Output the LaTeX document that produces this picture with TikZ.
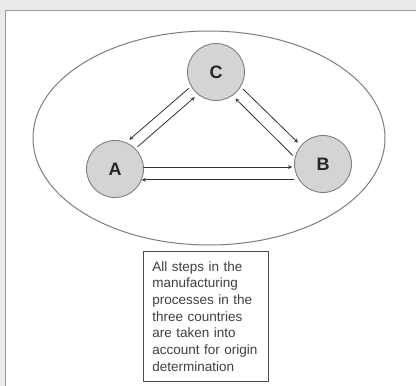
\documentclass[tikz,border=0pt]{standalone}
\usepackage{fontspec}
\setmainfont{Liberation Sans}
\usetikzlibrary{calc}
\definecolor{pagegray}{HTML}{EBEBEB}
\definecolor{framegray}{HTML}{9A9A9A}
\definecolor{discgray}{HTML}{D4D4D4}
\definecolor{rimgray}{HTML}{7E7E7E}
\definecolor{inkgray}{HTML}{333333}
\tikzset{
	country/.style={circle,draw=rimgray,fill=discgray,line width=0.9pt,
		minimum size=57pt,inner sep=0pt,text=black!85,
		font=\fontsize{18}{20}\selectfont\bfseries},
	flow/.style={->,draw=inkgray,line width=0.8pt},
	slant/.style={shorten >=4pt,shorten <=3pt},
	notebox/.style={draw=black!70,line width=0.8pt,anchor=north west,
		text width=107pt,inner xsep=9pt,inner ysep=10pt,align=left,
		text=black!75,font=\fontsize{13.5}{16.7}\selectfont}
}
\begin{document}
\begin{tikzpicture}[x=1pt,y=-1pt,>=stealth,line
				join=round,line
				cap=round]
				\useasboundingbox[fill=pagegray] (0,0) rectangle (416,386);
				\fill[white] (5.5,10.5) rectangle (416,386);
				\draw[framegray,line width=1.5pt]
				(5.5,386)--(5.5,10.5)--(416,10.5);
				\def\cx{209}
				\def\cy{138}
				\draw[rimgray,line width=1pt] (\cx,\cy) ellipse [x
				radius=176,y radius=107];
				\node[country] (C) at (216,72) {C};
				\node[country] (A) at (115,169) {A};
				\node[country] (B) at (323,164) {B};
				\draw[flow,slant] (C.210)--(A.67);
				\draw[flow,slant] (A.45)--(C.231);
				\draw[flow,slant] (C.329)--(B.140);
				\draw[flow,slant] (B.167)--(C.305);
				\draw[flow] (A.4)--($(A.4 -| B.west)+(-2,0)$);
				\draw[flow] (A.-22 -| B.west)--(A.-22);
				\node[notebox] (note) at (143,251) {All steps in the\\
				manufacturing\\ processes in the\\ three countries\\ are taken into\\
				account for origin\\ determination};
			\end{tikzpicture}
\end{document}
